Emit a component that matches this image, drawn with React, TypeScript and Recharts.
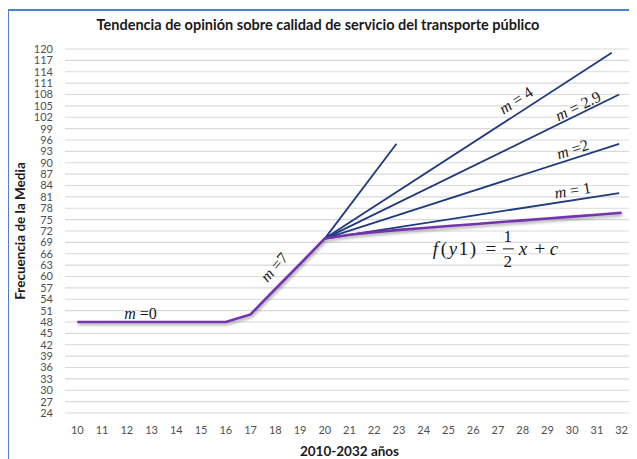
import React from "react";
import {
  LineChart,
  Line,
  XAxis,
  YAxis,
  CartesianGrid,
  ReferenceDot,
} from "recharts";

// ---- data ----
const years = [10, 11, 12, 13, 14, 15, 16, 17, 18, 19, 20, 21, 22, 23, 24, 25, 26, 27, 28, 29, 30, 31, 32];
const mediaValues = [48, 48, 48, 48, 48, 48, 48, 50, 56.7, 63.3, 70, 71, 71.7, 72.3, 72.8, 73.3, 73.8, 74.3, 74.8, 75.3, 75.8, 76.3, 76.8];

const yTicks = [24, 27, 30, 33, 36, 39, 42, 45, 48, 51, 54, 57, 60, 63, 66, 69, 72, 75, 78, 81, 84, 87, 90, 93, 96, 99, 102, 105, 108, 111, 114, 117, 120];

// slope lines: start and end points (year, value)
const slopeStart = { x: 20, y: 70 };
const slopeM7 = [slopeStart, { x: 22.9, y: 95 }];
const slopeM4 = [slopeStart, { x: 31.6, y: 119 }];
const slopeM29 = [slopeStart, { x: 31.9, y: 108 }];
const slopeM2 = [slopeStart, { x: 31.9, y: 95 }];
const slopeM1 = [slopeStart, { x: 31.9, y: 82 }];
const slopeSeries = [slopeM7, slopeM4, slopeM29, slopeM2, slopeM1];

// annotations: position (year, value), text after "m", angle
const annotations = [
  { x: 12.55, y: 50.4, rest: " =0", angle: 0 },
  { x: 17.95, y: 62.5, rest: " =7", angle: -49 },
  { x: 27.72, y: 106.5, rest: " = 4", angle: -33 },
  { x: 30.23, y: 105, rest: " = 2.9", angle: -26 },
  { x: 30.02, y: 93.6, rest: " =2", angle: -18 },
  { x: 30.02, y: 82.8, rest: " = 1", angle: -9 },
];
const formulaPos = { x: 24.37, y: 65.7 };

const title = "Tendencia de opinión sobre calidad de servicio del transporte público";
const xLabel = "2010-2032 años";
const yLabel = "Frecuencia de la Media";

const mediaData = years.map((x, i) => ({ x, y: mediaValues[i] }));

const NAVY = "#1F3A7D";
const PURPLE = "#7434B0";
const MATH_FONT = "'Liberation Serif', 'DejaVu Serif', serif";

const AnnotationShape = (angle: number, rest: string) => (props: any) => {
  const { cx, cy } = props;
  return (
    <text
      x={cx}
      y={cy}
      dy="0.35em"
      textAnchor="middle"
      fontFamily={MATH_FONT}
      fontSize={16}
      fill="#1a1a1a"
      transform={`rotate(${angle}, ${cx}, ${cy})`}
    >
      <tspan fontStyle="italic">m</tspan>
      <tspan>{rest}</tspan>
    </text>
  );
};

const FormulaShape = (props: any) => {
  const { cx, cy } = props;
  return (
    <g fontFamily={MATH_FONT} fill="#1a1a1a" fontSize={19}>
      <text x={cx} y={cy} letterSpacing={1.6}>
        <tspan fontStyle="italic">f</tspan>
        <tspan dx={1}>(</tspan>
        <tspan fontStyle="italic">y</tspan>
        <tspan>1)</tspan>
      </text>
      <text x={cx + 58} y={cy} textAnchor="middle">=</text>
      <text x={cx + 75} y={cy - 13} textAnchor="middle" fontSize={17}>1</text>
      <line x1={cx + 70} x2={cx + 81} y1={cy - 6} y2={cy - 6} stroke="#1a1a1a" strokeWidth={1} />
      <text x={cx + 75} y={cy + 12} textAnchor="middle" fontSize={17}>2</text>
      <text x={cx + 86} y={cy} fontStyle="italic">x</text>
      <text x={cx + 107} y={cy} textAnchor="middle">+</text>
      <text x={cx + 117} y={cy} fontStyle="italic">c</text>
    </g>
  );
};

export default function App() {
  return (
    <div
      style={{
        position: "relative",
        width: 630,
        height: 450,
        marginLeft: -1,
        marginTop: 1,
        borderTop: "2px solid #4F7FD0",
        borderLeft: "2px solid #4F7FD0",
        boxSizing: "border-box",
        background: "#fff",
      }}
    >
      <style>{`body{overflow:hidden;} .media-line path{filter: drop-shadow(1px 2px 1.5px rgba(0,0,0,0.35));}`}</style>
      <div
        style={{
          position: "absolute",
          top: 5,
          left: 0,
          width: 618,
          textAlign: "center",
          fontFamily: "Lato, sans-serif",
          fontWeight: 700,
          fontSize: 14.5,
          color: "#1a1a1a",
          whiteSpace: "nowrap",
        }}
      >
        {title}
      </div>
      <LineChart
        width={628}
        height={448}
        margin={{ top: 38, right: 3, bottom: 0, left: 0 }}
      >
        <CartesianGrid horizontal vertical={false} stroke="#D9D9D9" strokeWidth={1.2} />
        <XAxis
          dataKey="x"
          type="number"
          domain={[9.5, 32.5]}
          ticks={years}
          interval={0}
          allowDataOverflow
          axisLine={false}
          tickLine={false}
          tickSize={0}
          tickMargin={13}
          height={46}
          tick={{ fill: "#505050", fontSize: 11, fontFamily: "Lato, sans-serif" }}
          label={{
            content: (p: any) => {
              const vb = p.viewBox;
              return (
                <text
                  x={vb.x + vb.width / 2}
                  y={vb.y + 43}
                  textAnchor="middle"
                  fontFamily="Lato, sans-serif"
                  fontWeight={700}
                  fontSize={13.5}
                  fill="#1a1a1a"
                >
                  {xLabel}
                </text>
              );
            },
          }}
        />
        <YAxis
          type="number"
          domain={[24, 120]}
          ticks={yTicks}
          interval={0}
          axisLine={false}
          tickLine={false}
          tickSize={0}
          tickMargin={12}
          width={56}
          tick={{ fill: "#505050", fontSize: 11, fontFamily: "Lato, sans-serif" }}
          label={{
            content: (p: any) => {
              const vb = p.viewBox;
              const x = vb.x + 16;
              const y = vb.y + vb.height / 2;
              return (
                <text
                  x={x}
                  y={y}
                  textAnchor="middle"
                  transform={`rotate(-90, ${x}, ${y})`}
                  fontFamily="Lato, sans-serif"
                  fontWeight={700}
                  fontSize={13.5}
                  fill="#1a1a1a"
                >
                  {yLabel}
                </text>
              );
            },
          }}
        />
        {slopeSeries.map((d, i) => (
          <Line
            key={i}
            data={d}
            dataKey="y"
            stroke={NAVY}
            strokeWidth={1.8}
            dot={false}
            activeDot={false}
            isAnimationActive={false}
          />
        ))}
        <Line
          data={mediaData}
          dataKey="y"
          className="media-line"
          stroke={PURPLE}
          strokeWidth={2.6}
          dot={false}
          activeDot={false}
          isAnimationActive={false}
        />
        {annotations.map((a, i) => (
          <ReferenceDot
            key={"a" + i}
            x={a.x}
            y={a.y}
            r={2}
            ifOverflow="visible"
            shape={AnnotationShape(a.angle, a.rest)}
          />
        ))}
        <ReferenceDot
          x={formulaPos.x}
          y={formulaPos.y}
          r={2}
          ifOverflow="visible"
          shape={FormulaShape}
        />
      </LineChart>
    </div>
  );
}
